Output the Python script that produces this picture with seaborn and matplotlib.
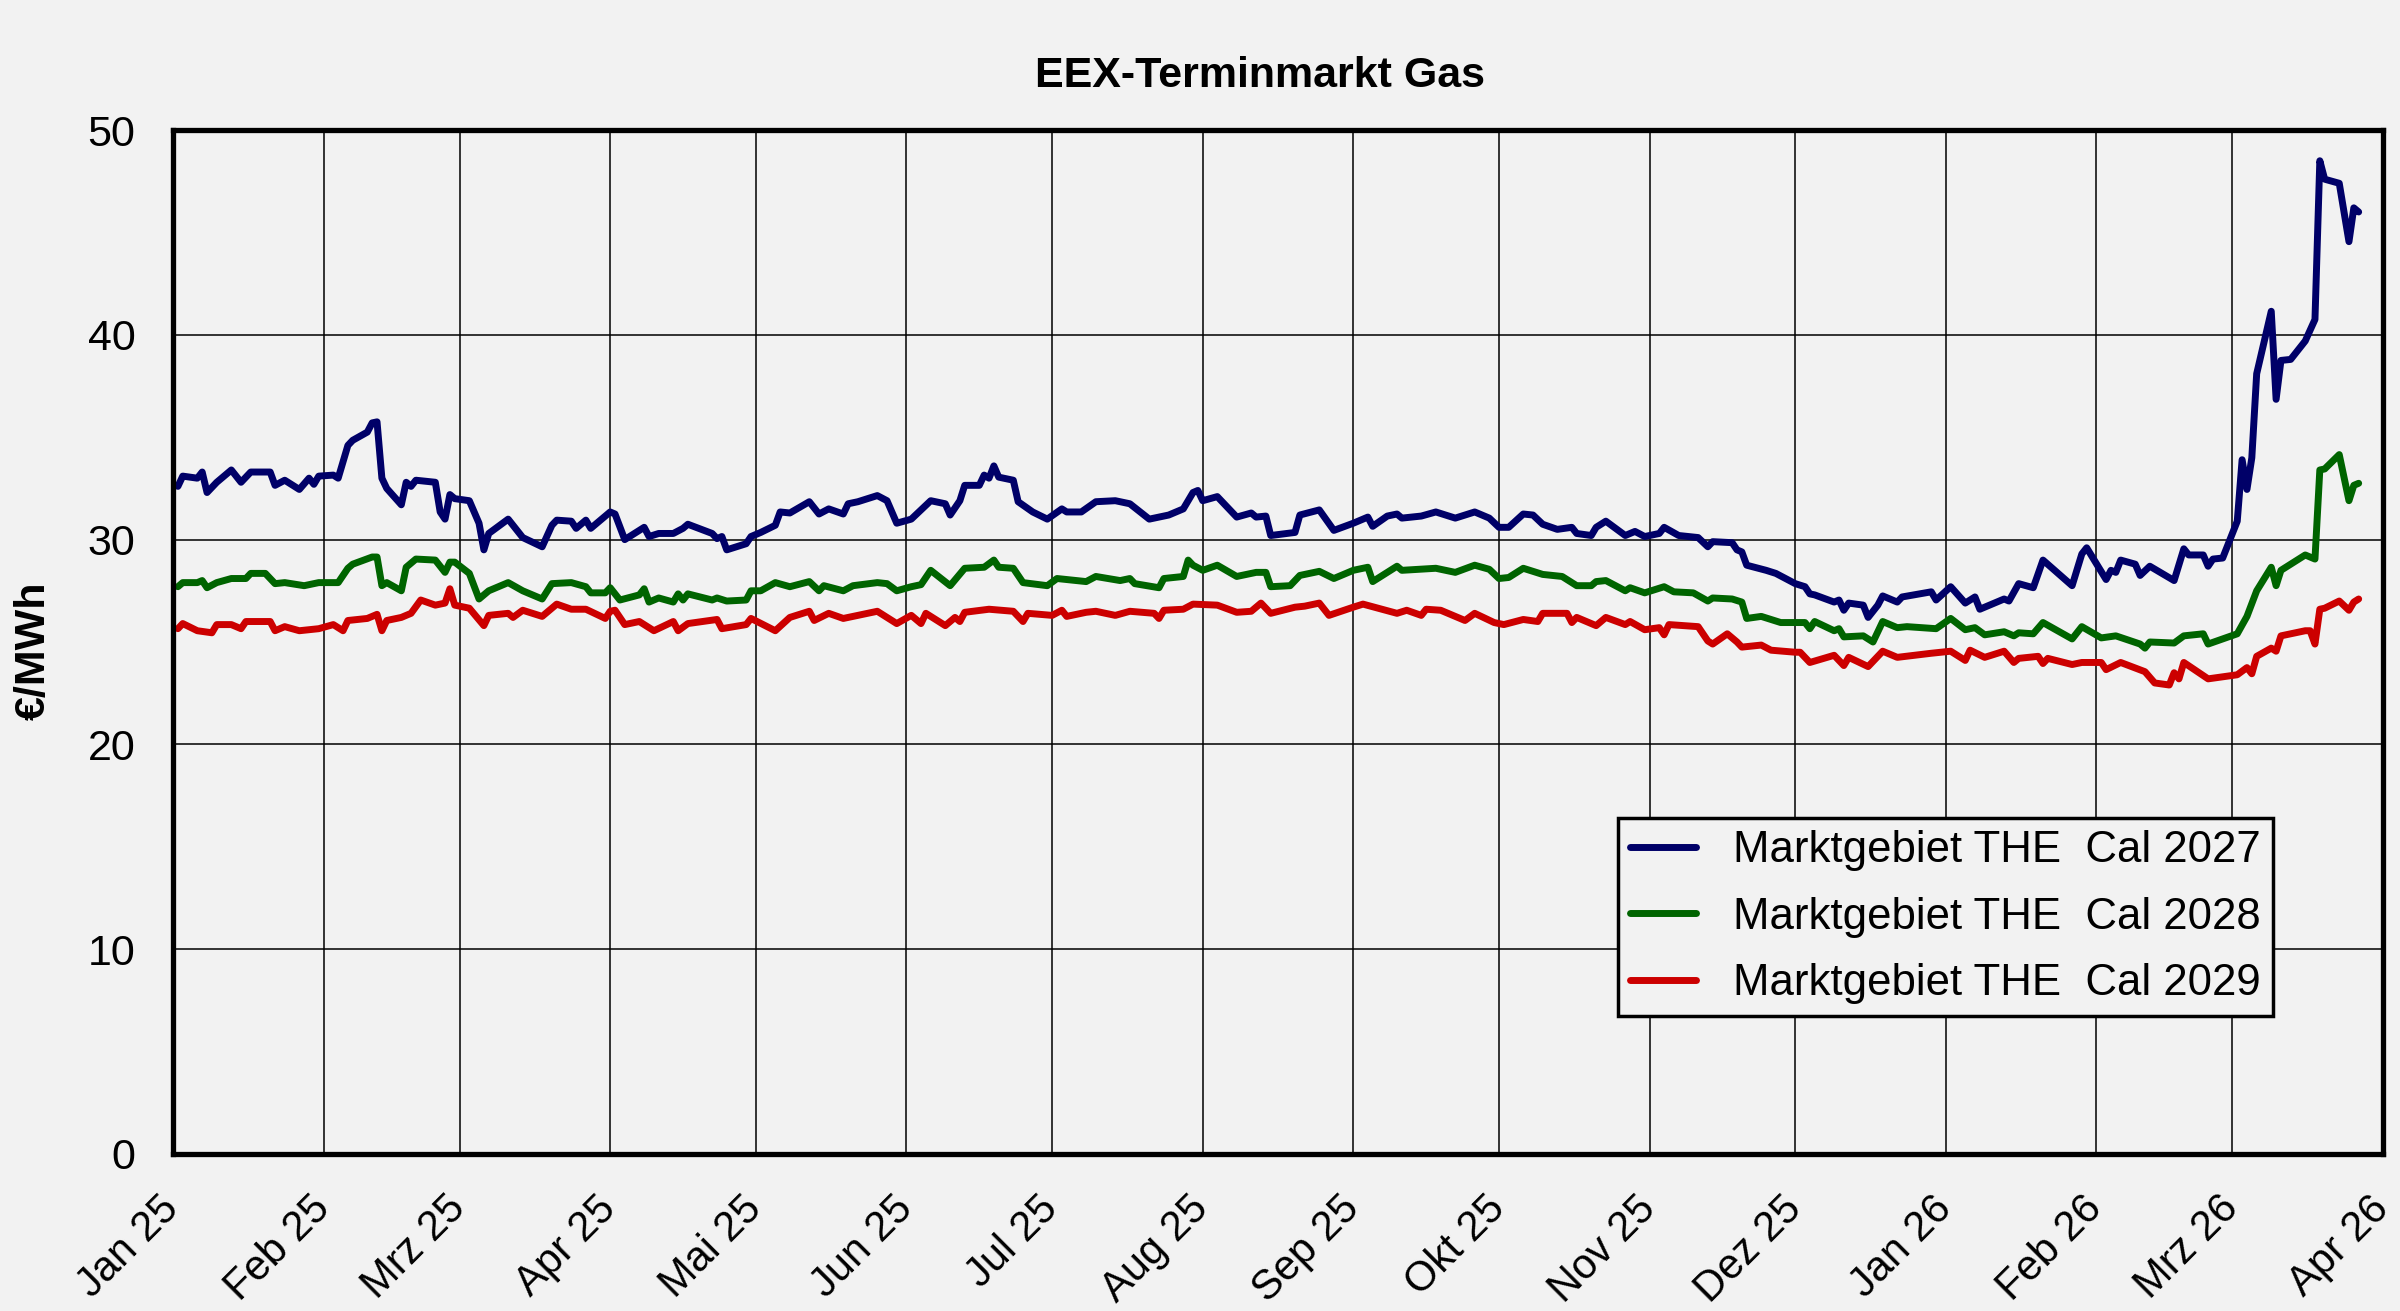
# plot.py - EEX-Terminmarkt Gas, THE Cal 2027/2028/2029
import pandas as pd
import matplotlib
matplotlib.use("Agg")
import matplotlib.pyplot as plt
import seaborn as sns

# ===== Data =====
cal27_dates = [
    "2025-01-02", "2025-01-03", "2025-01-06", "2025-01-07", "2025-01-08", "2025-01-10", "2025-01-13", "2025-01-15",
    "2025-01-17", "2025-01-21", "2025-01-22", "2025-01-24", "2025-01-27", "2025-01-29", "2025-01-30", "2025-01-31",
    "2025-02-03", "2025-02-04", "2025-02-06", "2025-02-07", "2025-02-10", "2025-02-11", "2025-02-12", "2025-02-13",
    "2025-02-14", "2025-02-17", "2025-02-18", "2025-02-19", "2025-02-20", "2025-02-24", "2025-02-25", "2025-02-26",
    "2025-02-27", "2025-02-28", "2025-03-03", "2025-03-05", "2025-03-06", "2025-03-07", "2025-03-11", "2025-03-14",
    "2025-03-18", "2025-03-20", "2025-03-21", "2025-03-24", "2025-03-25", "2025-03-27", "2025-03-28", "2025-04-01",
    "2025-04-02", "2025-04-04", "2025-04-08", "2025-04-09", "2025-04-11", "2025-04-14", "2025-04-16", "2025-04-17",
    "2025-04-22", "2025-04-23", "2025-04-24", "2025-04-25", "2025-04-29", "2025-04-30", "2025-05-02", "2025-05-05",
    "2025-05-06", "2025-05-08", "2025-05-12", "2025-05-14", "2025-05-16", "2025-05-19", "2025-05-20", "2025-05-22",
    "2025-05-26", "2025-05-28", "2025-05-30", "2025-06-02", "2025-06-04", "2025-06-06", "2025-06-09", "2025-06-10",
    "2025-06-12", "2025-06-13", "2025-06-16", "2025-06-17", "2025-06-18", "2025-06-19", "2025-06-20", "2025-06-23",
    "2025-06-24", "2025-06-27", "2025-06-30", "2025-07-03", "2025-07-04", "2025-07-07", "2025-07-10", "2025-07-14",
    "2025-07-17", "2025-07-21", "2025-07-25", "2025-07-28", "2025-07-30", "2025-07-31", "2025-08-01", "2025-08-04",
    "2025-08-08", "2025-08-11", "2025-08-12", "2025-08-14", "2025-08-15", "2025-08-20", "2025-08-21", "2025-08-25",
    "2025-08-28", "2025-09-01", "2025-09-04", "2025-09-05", "2025-09-08", "2025-09-10", "2025-09-11", "2025-09-15",
    "2025-09-18", "2025-09-22", "2025-09-26", "2025-09-29", "2025-10-01", "2025-10-03", "2025-10-06", "2025-10-08",
    "2025-10-10", "2025-10-13", "2025-10-16", "2025-10-17", "2025-10-20", "2025-10-21", "2025-10-23", "2025-10-27",
    "2025-10-29", "2025-10-31", "2025-11-03", "2025-11-04", "2025-11-07", "2025-11-11", "2025-11-13", "2025-11-14",
    "2025-11-18", "2025-11-19", "2025-11-20", "2025-11-21", "2025-11-25", "2025-11-27", "2025-12-01", "2025-12-03",
    "2025-12-04", "2025-12-05", "2025-12-09", "2025-12-10", "2025-12-11", "2025-12-12", "2025-12-15", "2025-12-16",
    "2025-12-18", "2025-12-19", "2025-12-22", "2025-12-23", "2025-12-29", "2025-12-30", "2026-01-02", "2026-01-05",
    "2026-01-07", "2026-01-08", "2026-01-13", "2026-01-14", "2026-01-16", "2026-01-19", "2026-01-21", "2026-01-27",
    "2026-01-29", "2026-01-30", "2026-02-03", "2026-02-04", "2026-02-05", "2026-02-06", "2026-02-09", "2026-02-10",
    "2026-02-12", "2026-02-17", "2026-02-19", "2026-02-20", "2026-02-23", "2026-02-24", "2026-02-25", "2026-02-27",
    "2026-03-02", "2026-03-03", "2026-03-04", "2026-03-05", "2026-03-06", "2026-03-09", "2026-03-10", "2026-03-11",
    "2026-03-13", "2026-03-16", "2026-03-18", "2026-03-19", "2026-03-20", "2026-03-23", "2026-03-25", "2026-03-26",
    "2026-03-27",
]
cal27_values = [
    32.6, 33.1, 33.0, 33.3, 32.3, 32.8, 33.4, 32.8,
    33.3, 33.3, 32.65, 32.9, 32.45, 33.0, 32.7, 33.1,
    33.15, 33.0, 34.6, 34.85, 35.25, 35.7, 35.75, 33.0,
    32.5, 31.7, 32.8, 32.6, 32.9, 32.8, 31.35, 31.0,
    32.2, 32.0, 31.9, 30.8, 29.5, 30.3, 31.0, 30.1,
    29.65, 30.7, 30.95, 30.9, 30.55, 30.95, 30.55, 31.35,
    31.25, 30.0, 30.6, 30.15, 30.3, 30.3, 30.55, 30.75,
    30.3, 30.05, 30.15, 29.5, 29.8, 30.15, 30.35, 30.7,
    31.35, 31.3, 31.85, 31.25, 31.5, 31.25, 31.75, 31.85,
    32.15, 31.9, 30.8, 31.0, 31.45, 31.9, 31.75, 31.2,
    31.9, 32.65, 32.65, 33.15, 33.0, 33.6, 33.05, 32.9,
    31.85, 31.35, 31.0, 31.5, 31.35, 31.35, 31.85, 31.9,
    31.75, 31.0, 31.2, 31.5, 32.3, 32.4, 31.9, 32.1,
    31.1, 31.3, 31.1, 31.15, 30.2, 30.35, 31.2, 31.45,
    30.45, 30.8, 31.1, 30.65, 31.15, 31.25, 31.05, 31.15,
    31.35, 31.05, 31.35, 31.05, 30.6, 30.6, 31.25, 31.2,
    30.75, 30.5, 30.6, 30.3, 30.2, 30.6, 30.9, 30.2,
    30.4, 30.15, 30.3, 30.6, 30.2, 30.1, 29.65, 29.9,
    29.85, 29.5, 29.4, 28.75, 28.5, 28.35, 27.85, 27.7,
    27.35, 27.3, 26.95, 27.05, 26.55, 26.9, 26.8, 26.2,
    26.8, 27.25, 26.95, 27.2, 27.45, 27.05, 27.7, 26.9,
    27.2, 26.6, 27.1, 27.0, 27.85, 27.65, 29.0, 27.75,
    29.3, 29.6, 28.05, 28.5, 28.4, 29.0, 28.8, 28.25,
    28.7, 28.0, 29.55, 29.25, 29.25, 28.7, 29.05, 29.1,
    30.9, 33.9, 32.45, 34.0, 38.1, 41.15, 36.85, 38.75,
    38.8, 39.7, 40.75, 48.5, 47.6, 47.4, 44.55, 46.2,
    46.0,
]

cal28_dates = [
    "2025-01-02", "2025-01-03", "2025-01-06", "2025-01-07", "2025-01-08", "2025-01-10", "2025-01-13", "2025-01-16",
    "2025-01-17", "2025-01-20", "2025-01-22", "2025-01-24", "2025-01-28", "2025-01-31", "2025-02-04", "2025-02-06",
    "2025-02-07", "2025-02-11", "2025-02-12", "2025-02-13", "2025-02-14", "2025-02-17", "2025-02-18", "2025-02-20",
    "2025-02-24", "2025-02-26", "2025-02-27", "2025-02-28", "2025-03-03", "2025-03-05", "2025-03-07", "2025-03-11",
    "2025-03-14", "2025-03-18", "2025-03-20", "2025-03-24", "2025-03-27", "2025-03-28", "2025-03-31", "2025-04-01",
    "2025-04-03", "2025-04-07", "2025-04-08", "2025-04-09", "2025-04-11", "2025-04-14", "2025-04-15", "2025-04-16",
    "2025-04-17", "2025-04-22", "2025-04-23", "2025-04-25", "2025-04-29", "2025-04-30", "2025-05-02", "2025-05-05",
    "2025-05-08", "2025-05-12", "2025-05-14", "2025-05-15", "2025-05-19", "2025-05-21", "2025-05-26", "2025-05-28",
    "2025-05-30", "2025-06-02", "2025-06-04", "2025-06-06", "2025-06-10", "2025-06-13", "2025-06-17", "2025-06-19",
    "2025-06-20", "2025-06-23", "2025-06-25", "2025-06-30", "2025-07-02", "2025-07-08", "2025-07-10", "2025-07-15",
    "2025-07-17", "2025-07-18", "2025-07-23", "2025-07-24", "2025-07-28", "2025-07-29", "2025-07-30", "2025-08-01",
    "2025-08-04", "2025-08-08", "2025-08-12", "2025-08-14", "2025-08-15", "2025-08-19", "2025-08-21", "2025-08-25",
    "2025-08-28", "2025-09-01", "2025-09-04", "2025-09-05", "2025-09-10", "2025-09-11", "2025-09-18", "2025-09-22",
    "2025-09-26", "2025-09-29", "2025-10-01", "2025-10-03", "2025-10-06", "2025-10-08", "2025-10-10", "2025-10-14",
    "2025-10-17", "2025-10-20", "2025-10-21", "2025-10-23", "2025-10-27", "2025-10-28", "2025-10-31", "2025-11-04",
    "2025-11-06", "2025-11-10", "2025-11-13", "2025-11-14", "2025-11-18", "2025-11-20", "2025-11-21", "2025-11-24",
    "2025-11-26", "2025-11-28", "2025-12-03", "2025-12-04", "2025-12-05", "2025-12-09", "2025-12-10", "2025-12-11",
    "2025-12-15", "2025-12-16", "2025-12-17", "2025-12-18", "2025-12-19", "2025-12-22", "2025-12-24", "2025-12-30",
    "2026-01-02", "2026-01-05", "2026-01-07", "2026-01-09", "2026-01-13", "2026-01-15", "2026-01-16", "2026-01-19",
    "2026-01-21", "2026-01-27", "2026-01-29", "2026-02-02", "2026-02-05", "2026-02-10", "2026-02-11", "2026-02-12",
    "2026-02-17", "2026-02-19", "2026-02-23", "2026-02-24", "2026-02-27", "2026-03-02", "2026-03-04", "2026-03-06",
    "2026-03-09", "2026-03-10", "2026-03-11", "2026-03-16", "2026-03-18", "2026-03-19", "2026-03-20", "2026-03-23",
    "2026-03-25", "2026-03-26", "2026-03-27",
]
cal28_values = [
    27.7, 27.9, 27.9, 28.0, 27.65, 27.9, 28.1, 28.1,
    28.35, 28.35, 27.85, 27.9, 27.75, 27.9, 27.9, 28.6,
    28.8, 29.15, 29.15, 27.75, 27.9, 27.5, 28.65, 29.05,
    29.0, 28.4, 28.9, 28.9, 28.35, 27.1, 27.5, 27.9,
    27.5, 27.1, 27.85, 27.9, 27.7, 27.4, 27.4, 27.65,
    27.05, 27.3, 27.6, 26.95, 27.15, 26.95, 27.35, 27.05,
    27.35, 27.05, 27.15, 27.0, 27.05, 27.5, 27.5, 27.9,
    27.7, 27.95, 27.5, 27.75, 27.5, 27.75, 27.9, 27.85,
    27.5, 27.7, 27.8, 28.5, 27.75, 28.6, 28.65, 29.0,
    28.65, 28.6, 27.9, 27.75, 28.1, 27.95, 28.2, 28.0,
    28.1, 27.85, 27.65, 28.1, 28.2, 29.0, 28.75, 28.5,
    28.75, 28.2, 28.4, 28.4, 27.7, 27.75, 28.25, 28.45,
    28.1, 28.5, 28.65, 27.95, 28.7, 28.5, 28.6, 28.4,
    28.75, 28.55, 28.1, 28.15, 28.6, 28.45, 28.3, 28.2,
    27.75, 27.75, 27.95, 28.0, 27.5, 27.65, 27.4, 27.7,
    27.45, 27.4, 27.0, 27.15, 27.1, 26.95, 26.15, 26.25,
    26.1, 25.95, 25.95, 25.65, 26.0, 25.55, 25.65, 25.25,
    25.3, 25.15, 25.0, 25.5, 26.0, 25.7, 25.75, 25.65,
    26.15, 25.6, 25.7, 25.35, 25.5, 25.3, 25.45, 25.4,
    25.95, 25.15, 25.75, 25.2, 25.3, 24.9, 24.7, 25.0,
    24.95, 25.3, 25.4, 24.9, 25.15, 25.4, 26.25, 27.5,
    28.65, 27.75, 28.5, 29.25, 29.05, 33.4, 33.45, 34.15,
    31.9, 32.65, 32.75,
]

cal29_dates = [
    "2025-01-02", "2025-01-03", "2025-01-06", "2025-01-09", "2025-01-10", "2025-01-13", "2025-01-15", "2025-01-16",
    "2025-01-21", "2025-01-22", "2025-01-24", "2025-01-27", "2025-01-31", "2025-02-03", "2025-02-05", "2025-02-06",
    "2025-02-10", "2025-02-12", "2025-02-13", "2025-02-14", "2025-02-17", "2025-02-19", "2025-02-21", "2025-02-24",
    "2025-02-26", "2025-02-27", "2025-02-28", "2025-03-03", "2025-03-06", "2025-03-07", "2025-03-11", "2025-03-12",
    "2025-03-14", "2025-03-18", "2025-03-21", "2025-03-24", "2025-03-27", "2025-03-31", "2025-04-01", "2025-04-02",
    "2025-04-04", "2025-04-07", "2025-04-10", "2025-04-14", "2025-04-15", "2025-04-17", "2025-04-23", "2025-04-24",
    "2025-04-29", "2025-04-30", "2025-05-05", "2025-05-08", "2025-05-12", "2025-05-13", "2025-05-16", "2025-05-19",
    "2025-05-22", "2025-05-26", "2025-05-30", "2025-06-02", "2025-06-04", "2025-06-05", "2025-06-09", "2025-06-11",
    "2025-06-12", "2025-06-13", "2025-06-18", "2025-06-23", "2025-06-25", "2025-06-26", "2025-07-01", "2025-07-03",
    "2025-07-04", "2025-07-08", "2025-07-10", "2025-07-14", "2025-07-17", "2025-07-22", "2025-07-23", "2025-07-24",
    "2025-07-28", "2025-07-30", "2025-08-04", "2025-08-08", "2025-08-11", "2025-08-13", "2025-08-15", "2025-08-20",
    "2025-08-22", "2025-08-25", "2025-08-27", "2025-09-01", "2025-09-03", "2025-09-10", "2025-09-12", "2025-09-15",
    "2025-09-16", "2025-09-19", "2025-09-24", "2025-09-26", "2025-09-30", "2025-10-02", "2025-10-06", "2025-10-09",
    "2025-10-10", "2025-10-15", "2025-10-16", "2025-10-17", "2025-10-21", "2025-10-23", "2025-10-27", "2025-10-28",
    "2025-10-31", "2025-11-03", "2025-11-04", "2025-11-05", "2025-11-11", "2025-11-13", "2025-11-14", "2025-11-17",
    "2025-11-19", "2025-11-20", "2025-11-24", "2025-11-26", "2025-12-01", "2025-12-02", "2025-12-04", "2025-12-09",
    "2025-12-11", "2025-12-12", "2025-12-16", "2025-12-19", "2025-12-22", "2025-12-29", "2026-01-02", "2026-01-05",
    "2026-01-06", "2026-01-09", "2026-01-13", "2026-01-15", "2026-01-16", "2026-01-20", "2026-01-21", "2026-01-22",
    "2026-01-27", "2026-01-29", "2026-02-02", "2026-02-03", "2026-02-06", "2026-02-11", "2026-02-13", "2026-02-16",
    "2026-02-17", "2026-02-18", "2026-02-19", "2026-02-24", "2026-02-27", "2026-03-02", "2026-03-04", "2026-03-05",
    "2026-03-06", "2026-03-09", "2026-03-10", "2026-03-11", "2026-03-16", "2026-03-17", "2026-03-18", "2026-03-19",
    "2026-03-20", "2026-03-23", "2026-03-25", "2026-03-26", "2026-03-27",
]
cal29_values = [
    25.65, 25.9, 25.55, 25.45, 25.85, 25.85, 25.65, 26.0,
    26.0, 25.55, 25.75, 25.55, 25.65, 25.85, 25.55, 26.05,
    26.15, 26.35, 25.55, 26.05, 26.2, 26.4, 27.05, 26.8,
    26.9, 27.6, 26.8, 26.65, 25.8, 26.3, 26.4, 26.2,
    26.55, 26.25, 26.85, 26.6, 26.6, 26.15, 26.5, 26.55,
    25.85, 26.0, 25.55, 26.0, 25.55, 25.9, 26.1, 25.65,
    25.85, 26.15, 25.55, 26.2, 26.5, 26.05, 26.4, 26.15,
    26.3, 26.5, 25.9, 26.3, 25.9, 26.4, 25.8, 26.2,
    26.0, 26.45, 26.6, 26.5, 26.0, 26.4, 26.3, 26.55,
    26.25, 26.45, 26.5, 26.3, 26.5, 26.4, 26.15, 26.55,
    26.6, 26.85, 26.8, 26.45, 26.5, 26.9, 26.4, 26.7,
    26.75, 26.9, 26.3, 26.7, 26.85, 26.4, 26.55, 26.3,
    26.6, 26.55, 26.05, 26.4, 25.95, 25.85, 26.1, 26.0,
    26.4, 26.4, 25.95, 26.2, 25.8, 26.2, 25.85, 26.0,
    25.6, 25.7, 25.35, 25.85, 25.75, 25.05, 24.9, 25.4,
    25.0, 24.75, 24.85, 24.6, 24.5, 24.5, 24.0, 24.35,
    23.85, 24.25, 23.8, 24.55, 24.25, 24.45, 24.55, 24.1,
    24.6, 24.25, 24.55, 24.0, 24.2, 24.3, 23.95, 24.2,
    23.9, 24.0, 24.0, 23.65, 24.0, 23.55, 23.0, 22.9,
    23.5, 23.2, 24.0, 23.2, 23.3, 23.4, 23.75, 23.45,
    24.3, 24.7, 24.55, 25.3, 25.55, 25.55, 24.9, 26.6,
    26.65, 27.0, 26.55, 26.95, 27.1,
]

series_names = ["Marktgebiet THE  Cal 2027", "Marktgebiet THE  Cal 2028", "Marktgebiet THE  Cal 2029"]
series_colors = ["#000068", "#006400", "#cc0000"]

month_ticks = ["2025-01-01", "2025-02-01", "2025-03-01", "2025-04-01", "2025-05-01", "2025-06-01",
               "2025-07-01", "2025-08-01", "2025-09-01", "2025-10-01", "2025-11-01", "2025-12-01",
               "2026-01-01", "2026-02-01", "2026-03-01", "2026-04-01"]
month_labels = ["Jan 25", "Feb 25", "Mrz 25", "Apr 25", "Mai 25", "Jun 25", "Jul 25", "Aug 25",
                "Sep 25", "Okt 25", "Nov 25", "Dez 25", "Jan 26", "Feb 26", "Mrz 26", "Apr 26"]
y_ticks = [0, 10, 20, 30, 40, 50]

# ===== Long table for seaborn =====
frames = []
for name, d, v in zip(series_names,
                      [cal27_dates, cal28_dates, cal29_dates],
                      [cal27_values, cal28_values, cal29_values]):
    frames.append(pd.DataFrame({"Datum": pd.to_datetime(d), "Preis": v, "Produkt": name}))
df = pd.concat(frames, ignore_index=True)

# ===== Plot =====
sns.set_theme(style="white")
plt.rcParams["font.family"] = ["Liberation Sans", "DejaVu Sans"]
plt.rcParams["text.color"] = "black"
plt.rcParams["xtick.color"] = "black"
plt.rcParams["ytick.color"] = "black"
plt.rcParams["axes.labelcolor"] = "black"

bg = "#f2f2f2"
fig = plt.figure(figsize=(24, 13.11), dpi=100, facecolor=bg)
ax = fig.add_axes([0.0721, 0.1198, 0.9208, 0.781])
ax.set_facecolor(bg)

sns.lineplot(data=df, x="Datum", y="Preis", hue="Produkt", hue_order=series_names,
             palette=dict(zip(series_names, series_colors)), linewidth=5,
             estimator=None, sort=True, ax=ax)

ax.set_xlim(pd.Timestamp(month_ticks[0]), pd.Timestamp(month_ticks[-1]))
ax.set_ylim(0, 50)
ax.set_yticks(y_ticks)
ax.set_xticks(pd.to_datetime(month_ticks))
ax.set_xticklabels(month_labels, rotation=45, ha="right", va="center", rotation_mode="anchor")

ax.grid(True, color="black", linewidth=1.1)
ax.set_axisbelow(True)
for s in ax.spines.values():
    s.set_linewidth(3.8)
    s.set_color("black")

ax.tick_params(axis="x", direction="out", length=9, width=1.2, colors="black", labelsize=30, pad=26)
ax.tick_params(axis="y", direction="out", length=9, width=1.2, colors="black", labelsize=31, pad=18)
ax.set_xlabel("")
ax.set_ylabel("")

fig.text(0.525, 0.942, "EEX-Terminmarkt Gas", fontsize=31, fontweight="bold", ha="center", va="center")
fig.text(0.014, 0.504, "€/MWh", fontsize=31, fontweight="bold", rotation=90, ha="center", va="center")

handles, labels = ax.get_legend_handles_labels()
ax.get_legend().remove()
leg = ax.legend(handles, labels, loc="lower left", bbox_to_anchor=(0.654, 0.135), borderaxespad=0,
                fontsize=31.5, frameon=True, fancybox=False, edgecolor="black", facecolor=bg,
                framealpha=1, handlelength=1.5, handletextpad=0.85, labelspacing=0.58, borderpad=0.27)
leg.get_frame().set_linewidth(2.5)
for h in leg.legend_handles:
    h.set_linewidth(5)

fig.savefig("out.png", dpi=100, facecolor=bg)
